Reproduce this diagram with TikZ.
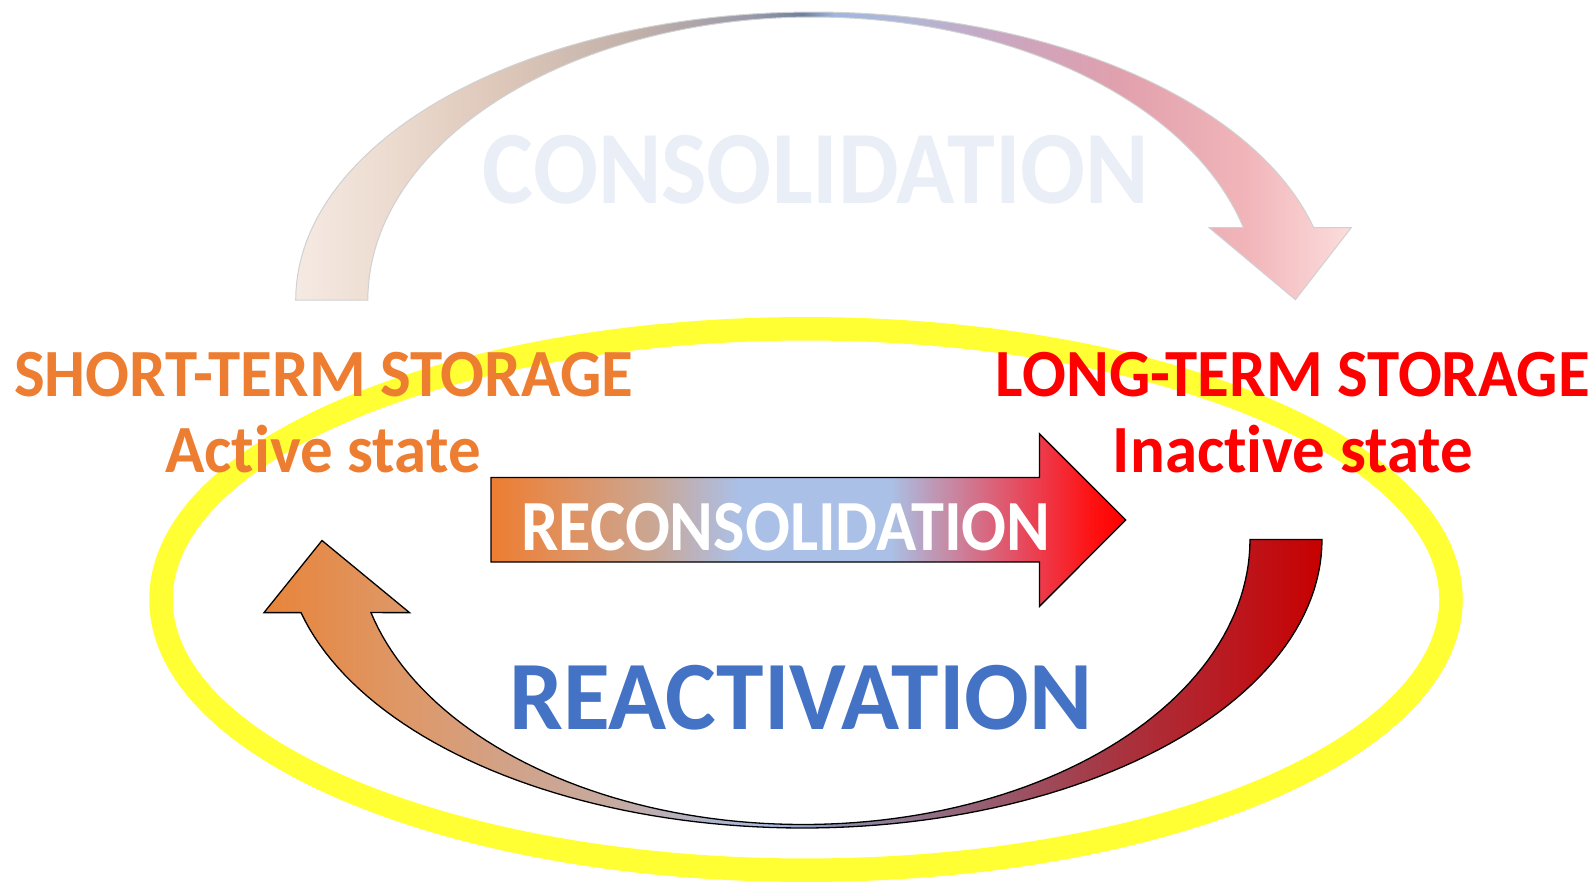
\documentclass[tikz,border=0pt]{standalone}
\usepackage{fontspec}
\setmainfont{Carlito}[Ligatures=NoCommon]
\definecolor{orng}{HTML}{ED7D31}
\definecolor{redd}{HTML}{FF0000}
\definecolor{bluet}{HTML}{4472C4}
\definecolor{faint}{HTML}{E9EEF7}
\definecolor{yell}{HTML}{FFFF33}
% top (consolidation) arrow colours
\definecolor{ta0}{HTML}{F5EAE3}\definecolor{ta1}{HTML}{EBD9CD}\definecolor{ta2}{HTML}{DCC6B8}
\definecolor{ta3}{HTML}{BFAFA9}\definecolor{ta4}{HTML}{9A9AAA}\definecolor{ta5}{HTML}{6F819F}
\definecolor{ta6}{HTML}{9FB6DF}\definecolor{ta7}{HTML}{B2B6D6}\definecolor{ta8}{HTML}{CCA5BE}
\definecolor{ta9}{HTML}{E1A0AD}\definecolor{ta10}{HTML}{F1B5B9}\definecolor{ta11}{HTML}{FCDDDD}
% reconsolidation arrow colours
\definecolor{ra0}{HTML}{ED7D31}\definecolor{ra1}{HTML}{E0915F}\definecolor{ra2}{HTML}{CBA692}
\definecolor{ra3}{HTML}{B4B8CF}\definecolor{ra4}{HTML}{AAC0E6}\definecolor{ra5}{HTML}{C096B2}
\definecolor{ra6}{HTML}{D86880}\definecolor{ra7}{HTML}{EE3848}\definecolor{ra8}{HTML}{FF1010}
% reactivation arrow colours
\definecolor{ba0}{HTML}{E8843A}\definecolor{ba1}{HTML}{DE9868}\definecolor{ba2}{HTML}{D2A288}
\definecolor{ba3}{HTML}{C6AAA0}\definecolor{ba4}{HTML}{B0B4C8}\definecolor{ba5}{HTML}{A8BEE4}
\definecolor{ba6}{HTML}{8C8CA8}\definecolor{ba7}{HTML}{946478}\definecolor{ba8}{HTML}{A83440}
\definecolor{ba9}{HTML}{B81C24}\definecolor{ba10}{HTML}{C80000}
\pgfdeclarehorizontalshading{topsh}{100bp}{color(0bp)=(ta0); color(25bp)=(ta0); color(30bp)=(ta1);
 color(35bp)=(ta2); color(41.5bp)=(ta3); color(46.5bp)=(ta4); color(49bp)=(ta5); color(50.5bp)=(ta6);
 color(54bp)=(ta7); color(59bp)=(ta8); color(64bp)=(ta9); color(70bp)=(ta10); color(75bp)=(ta11); color(100bp)=(ta11)}
\pgfdeclarehorizontalshading{midsh}{100bp}{color(0bp)=(ra0); color(25bp)=(ra0); color(31bp)=(ra1);
 color(37.5bp)=(ra2); color(42.5bp)=(ra3); color(44.5bp)=(ra4); color(56.5bp)=(ra4); color(60bp)=(ra5);
 color(64bp)=(ra6); color(68.5bp)=(ra7); color(72.5bp)=(ra8); color(75bp)=(redd); color(100bp)=(redd)}
\pgfdeclarehorizontalshading{botsh}{100bp}{color(0bp)=(ba0); color(25bp)=(ba0); color(31.7bp)=(ba1);
 color(36.5bp)=(ba2); color(41.3bp)=(ba3); color(46bp)=(ba4); color(49bp)=(ba5); color(52.3bp)=(ba6);
 color(58bp)=(ba7); color(65.3bp)=(ba8); color(70bp)=(ba9); color(75bp)=(ba10); color(100bp)=(ba10)}
\tikzset{
  lbl/.style={inner sep=0pt, anchor=base, font=\bfseries},
  ringline/.style={draw=yell, line width=23.5pt},
  arrowline/.style={draw=black, line width=1.3pt, line join=miter},
}
\newcommand{\sqz}[2]{\scalebox{#1}[1]{#2}}
\begin{document}
\begin{tikzpicture}[x=1pt, y=-1pt]
\useasboundingbox (0,0) rectangle (1593,884);
\fill[white] (0,0) rectangle (1593,884);
% yellow ring
\draw[ringline] (806,599.5) ellipse [x radius=645, y radius=270.7];
% consolidation arrow (top)
\path[shading=topsh, draw=black!18, line width=1pt]
  (295.7,300) -- plot[domain=180:345.44, samples=100] ({813+517.3*cos(\x)},{300+288*sin(\x)})
  -- (1351.3,227.6) -- (1295.4,299.7) -- (1209,227.6)
  -- plot[domain=345.18:180, samples=100] ({813+445.2*cos(\x)},{300+283*sin(\x)}) -- cycle;
\node[lbl, text=faint, font=\fontsize{104}{110}\selectfont\bfseries] (cons) at (816,203) {\sqz{0.925}{CONSOLIDATION}};
% reconsolidation arrow
\path[shading=midsh, arrowline]
  (491,477.5) -- (1039.4,477.5) -- (1039.4,433.8) -- (1125.7,520) -- (1039.4,606.5)
  -- (1039.4,562) -- (491,562) -- cycle;
\node[lbl, text=white, font=\fontsize{72}{76}\selectfont\bfseries] (recons) at (786,550.7) {\sqz{0.923}{RECONSOLIDATION}};
% reactivation arrow (bottom)
\path[shading=botsh, arrowline]
  (1322,539.5) -- plot[domain=0:165.32, samples=100] ({803+519*cos(\x)},{539.5+288.5*sin(\x)})
  -- (264,612.6) -- (322,540.5) -- (409.5,612.6)
  -- plot[domain=165.14:0, samples=100] ({803+447*cos(\x)},{539.5+285*sin(\x)}) -- cycle;
\node[lbl, text=bluet, font=\fontsize{98}{104}\selectfont\bfseries] (react) at (801,729.5) {\sqz{0.977}{REACTIVATION}};
% labels
\node[lbl, text=orng, font=\fontsize{67.5}{70}\selectfont\bfseries] (stl) at (323.6,396) {\sqz{0.962}{SHORT-TERM STORAGE}};
\node[lbl, text=orng, font=\fontsize{67.5}{70}\selectfont\bfseries] (sts) at (323,472.4) {\sqz{0.962}{Active state}};
\node[lbl, text=redd, font=\fontsize{67.5}{70}\selectfont\bfseries] (ltl) at (1293,396) {\sqz{0.962}{LONG-TERM STORAGE}};
\node[lbl, text=redd, font=\fontsize{67.5}{70}\selectfont\bfseries] (lts) at (1293,472.4) {\sqz{0.962}{Inactive state}};
\end{tikzpicture}
\end{document}
